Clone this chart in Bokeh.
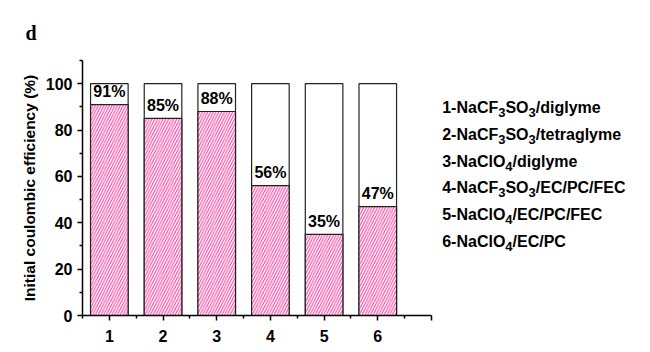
from bokeh.plotting import figure
from bokeh.models import Range1d, FixedTicker, Label, ColumnDataSource, Title
from bokeh.embed import file_html
from bokeh.resources import INLINE
from bokeh.core.properties import value

samples = [1, 2, 3, 4, 5, 6]
efficiency = [91, 85, 88, 56, 35, 47]
pct_labels = ["91%", "85%", "88%", "56%", "35%", "47%"]
# "_3" marks a subscript digit
legend_lines = [
    "1-NaCF_3SO_3/diglyme",
    "2-NaCF_3SO_3/tetraglyme",
    "3-NaClO_4/diglyme",
    "4-NaCF_3SO_3/EC/PC/FEC",
    "5-NaClO_4/EC/PC/FEC",
    "6-NaClO_4/EC/PC",
]
full = [100] * len(samples)

FONT = "Liberation Sans"
PINK = "#ff3399"

# Arial/Liberation Sans Bold advance widths (per 1000 em)
ADV = {"-": 333, "/": 278, " ": 278, "A": 722, "C": 722, "E": 667, "F": 611,
       "N": 722, "O": 778, "P": 667, "S": 667, "a": 556, "c": 556, "d": 611,
       "e": 556, "g": 611, "i": 278, "l": 278, "m": 889, "r": 389, "t": 333,
       "y": 556, "o": 611, "n": 611}
for dgt in "0123456789":
    ADV[dgt] = 556


def text_width(s, size):
    return sum(ADV.get(ch, 600) for ch in s) * size / 1000.0


def split_segments(s):
    segs, cur, i = [], "", 0
    while i < len(s):
        if s[i] == "_" and i + 1 < len(s):
            if cur:
                segs.append((cur, False))
                cur = ""
            segs.append((s[i + 1], True))
            i += 2
        else:
            cur += s[i]
            i += 1
    if cur:
        segs.append((cur, False))
    return segs


p = figure(width=650, height=352, output_backend="svg", toolbar_location=None,
           x_range=Range1d(0.5, 11.08), y_range=Range1d(0, 110),
           min_border_left=82, min_border_right=0, min_border_top=60,
           min_border_bottom=37)
p.outline_line_color = None
p.xgrid.visible = False
p.ygrid.visible = False
p.background_fill_color = "white"
p.border_fill_color = "white"

src = ColumnDataSource(dict(x=samples, top=efficiency, full=full, lab=pct_labels,
                            ly=[v + 5.5 for v in efficiency]))

p.vbar(x="x", top="full", bottom=0, width=0.7, source=src,
       fill_color="white", line_color="#222222", line_width=1.2)
p.vbar(x="x", top="top", bottom=0, width=0.7, source=src,
       fill_color="white", hatch_pattern="/", hatch_color=PINK,
       hatch_scale=5.5, hatch_weight=1.0, line_color="#222222", line_width=1.2)
p.text(x="x", y="ly", text="lab", source=src, text_align="center",
       text_baseline="middle", text_font=value(FONT), text_font_style="bold",
       text_font_size="16px", text_color="black")

# axes
p.xaxis.ticker = FixedTicker(ticks=[1, 2, 3, 4, 5, 6, 7],
                             minor_ticks=[0.5, 1.5, 2.5, 3.5, 4.5, 5.5, 6.5])
p.xaxis.major_label_overrides = {7: ""}
p.xaxis.bounds = (0.5, 7.0)
p.yaxis.ticker = FixedTicker(ticks=[0, 20, 40, 60, 80, 100],
                             minor_ticks=[10, 30, 50, 70, 90, 110])
p.yaxis.bounds = (0, 110)
for ax in (p.xaxis[0], p.yaxis[0]):
    ax.axis_line_width = 1.5
    ax.axis_line_color = "black"
    ax.major_tick_line_width = 1.5
    ax.minor_tick_line_width = 1.5
    ax.major_tick_out = 5
    ax.major_tick_in = 0
    ax.minor_tick_out = 3
    ax.minor_tick_in = 0
    ax.major_label_text_font = FONT
    ax.major_label_text_font_style = "bold"
    ax.major_label_text_font_size = "16px"
    ax.major_label_text_color = "black"
    ax.major_label_standoff = 5
p.xaxis.major_label_standoff = 9

p.yaxis.axis_label = "Initial coulombic efficiency (%)"
p.yaxis.axis_label_text_font = FONT
p.yaxis.axis_label_text_font_style = "bold"
p.yaxis.axis_label_text_font_size = "15.5px"
p.yaxis.axis_label_text_color = "black"
p.yaxis.axis_label_standoff = 5

# legend text block, with subscripts drawn as smaller, lowered pieces
MAIN, SUB = 16, 13
for i, line in enumerate(legend_lines):
    off = 0.0
    for seg, is_sub in split_segments(line):
        size = SUB if is_sub else MAIN
        p.add_layout(Label(x=7.2, y=89.7 - i * 11.55, x_offset=off,
                           y_offset=-5 if is_sub else 0, text=seg,
                           text_font=FONT, text_font_style="bold",
                           text_font_size=f"{size}px", text_baseline="middle",
                           text_color="black"))
        off += text_width(seg, size)

# panel letter
p.add_layout(Title(text="d", align="left", offset=-57, text_font="Liberation Serif",
                   text_font_style="bold", text_font_size="20px",
                   text_color="black", standoff=33), "above")

open("out.html", "w").write(file_html(p, INLINE))
